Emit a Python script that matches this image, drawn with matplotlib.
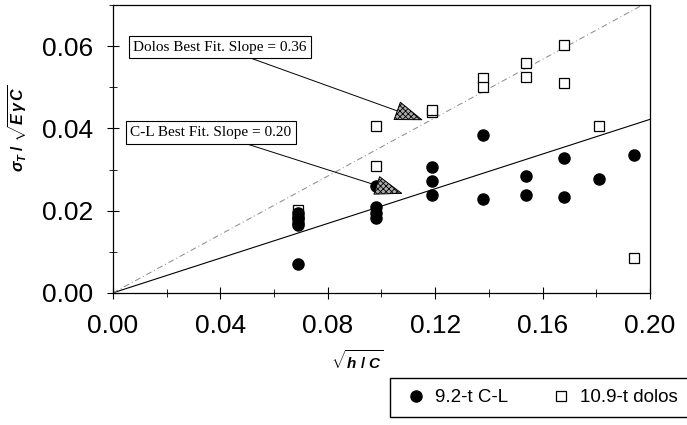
import matplotlib
matplotlib.use('Agg')
import matplotlib.pyplot as plt
from matplotlib.ticker import MultipleLocator, FormatStrFormatter
import numpy as np

plt.rcParams['font.family'] = ['Liberation Sans', 'DejaVu Sans']
plt.rcParams['mathtext.fontset'] = 'custom'
plt.rcParams['mathtext.it'] = 'Liberation Sans:italic:bold'
plt.rcParams['mathtext.rm'] = 'Liberation Sans:bold'
plt.rcParams['mathtext.bf'] = 'Liberation Sans:bold'
plt.rcParams['hatch.linewidth'] = 0.6

# 9.2-t C-L
cl_x = [0.069, 0.069, 0.069, 0.069, 0.069, 0.069,
        0.098, 0.098, 0.098, 0.098,
        0.119, 0.119, 0.119,
        0.138, 0.138,
        0.154, 0.154,
        0.168, 0.168,
        0.181, 0.194]
cl_y = [0.0195, 0.018, 0.0165, 0.017, 0.0185, 0.007,
        0.026, 0.021, 0.0195, 0.0183,
        0.0305, 0.0273, 0.0239,
        0.0383, 0.0229,
        0.0285, 0.0239,
        0.0327, 0.0234,
        0.0278, 0.0336]

# 10.9-t dolos
dolos_x = [0.069, 0.069, 0.098, 0.098, 0.119, 0.119, 0.138, 0.138,
           0.154, 0.154, 0.168, 0.168, 0.181, 0.194]
dolos_y = [0.0202, 0.0192, 0.0405, 0.0308, 0.0441, 0.0445, 0.0522, 0.0500,
           0.0559, 0.0524, 0.0602, 0.0510, 0.0405, 0.0085]

# best fit slopes (as drawn)
cl_slope = 0.211
dolos_slope = 0.355

fig = plt.figure(figsize=(6.87, 4.25), dpi=100)
ax = fig.add_axes([0.1645, 0.311, 0.7815, 0.677])

xs = np.array([0.0, 0.2])
ax.plot(xs, cl_slope * xs, color='black', lw=0.8, zorder=2)
ax.plot(xs, dolos_slope * xs, color='#888888', lw=0.7, ls=(0, (6, 3, 1, 3)), zorder=2)

ax.plot(dolos_x, dolos_y, 's', ms=7.5, mfc='white', mec='black', mew=0.9,
        ls='none', label='10.9-t dolos', zorder=3)
ax.plot(cl_x, cl_y, 'o', ms=8, mfc='black', mec='black',
        ls='none', label='9.2-t C-L', zorder=4)

box = dict(boxstyle='square,pad=0.3', fc='white', ec='black', lw=0.8)
arrow = dict(arrowstyle='-|>,head_length=1.7,head_width=0.6', fc='#aaaaaa',
             ec='black', lw=0.7, hatch='xxxxxx', shrinkA=0, shrinkB=0)
ax.annotate('Dolos Best Fit. Slope = 0.36', xy=(0.1155, 0.042), xytext=(0.0075, 0.0598),
            fontfamily='Liberation Serif', fontsize=11, va='center', ha='left',
            bbox=box, arrowprops=arrow, zorder=5)
ax.annotate('C-L Best Fit. Slope = 0.20', xy=(0.108, 0.0241), xytext=(0.0065, 0.0390),
            fontfamily='Liberation Serif', fontsize=11, va='center', ha='left',
            bbox=box, arrowprops=arrow, zorder=5)

ax.set_xlim(0, 0.2)
ax.set_ylim(0, 0.07)
ax.xaxis.set_major_locator(MultipleLocator(0.04))
ax.xaxis.set_minor_locator(MultipleLocator(0.02))
ax.yaxis.set_major_locator(MultipleLocator(0.02))
ax.yaxis.set_minor_locator(MultipleLocator(0.01))
ax.xaxis.set_major_formatter(FormatStrFormatter('%.2f'))
ax.yaxis.set_major_formatter(FormatStrFormatter('%.2f'))
ax.tick_params(which='both', direction='inout', labelsize=19)
ax.tick_params(which='major', length=8)
ax.tick_params(which='minor', length=6)
ax.tick_params(axis='x', pad=11.5)
ax.tick_params(axis='y', pad=10.5)
for s in ax.spines.values():
    s.set_linewidth(0.9)

ax.set_xlabel(r'$\sqrt{h\ /\ C}$', fontsize=11)
ax.xaxis.set_label_coords(0.456, -0.195)
ax.set_ylabel(r'$\sigma_T\;/\;\sqrt{E\,\gamma\,C}$', fontsize=11.5)
ax.yaxis.set_label_coords(-0.155, 0.571)

handles, labels = ax.get_legend_handles_labels()
fig.legend(handles[::-1], labels[::-1], loc='upper left', bbox_to_anchor=(0.568, 0.111),
           ncol=2, fancybox=False, edgecolor='black', fontsize=13.5,
           handlelength=1.6, handletextpad=0.2, columnspacing=2.0,
           borderpad=0.6, borderaxespad=0, framealpha=1)

fig.savefig('out.png', dpi=100)
